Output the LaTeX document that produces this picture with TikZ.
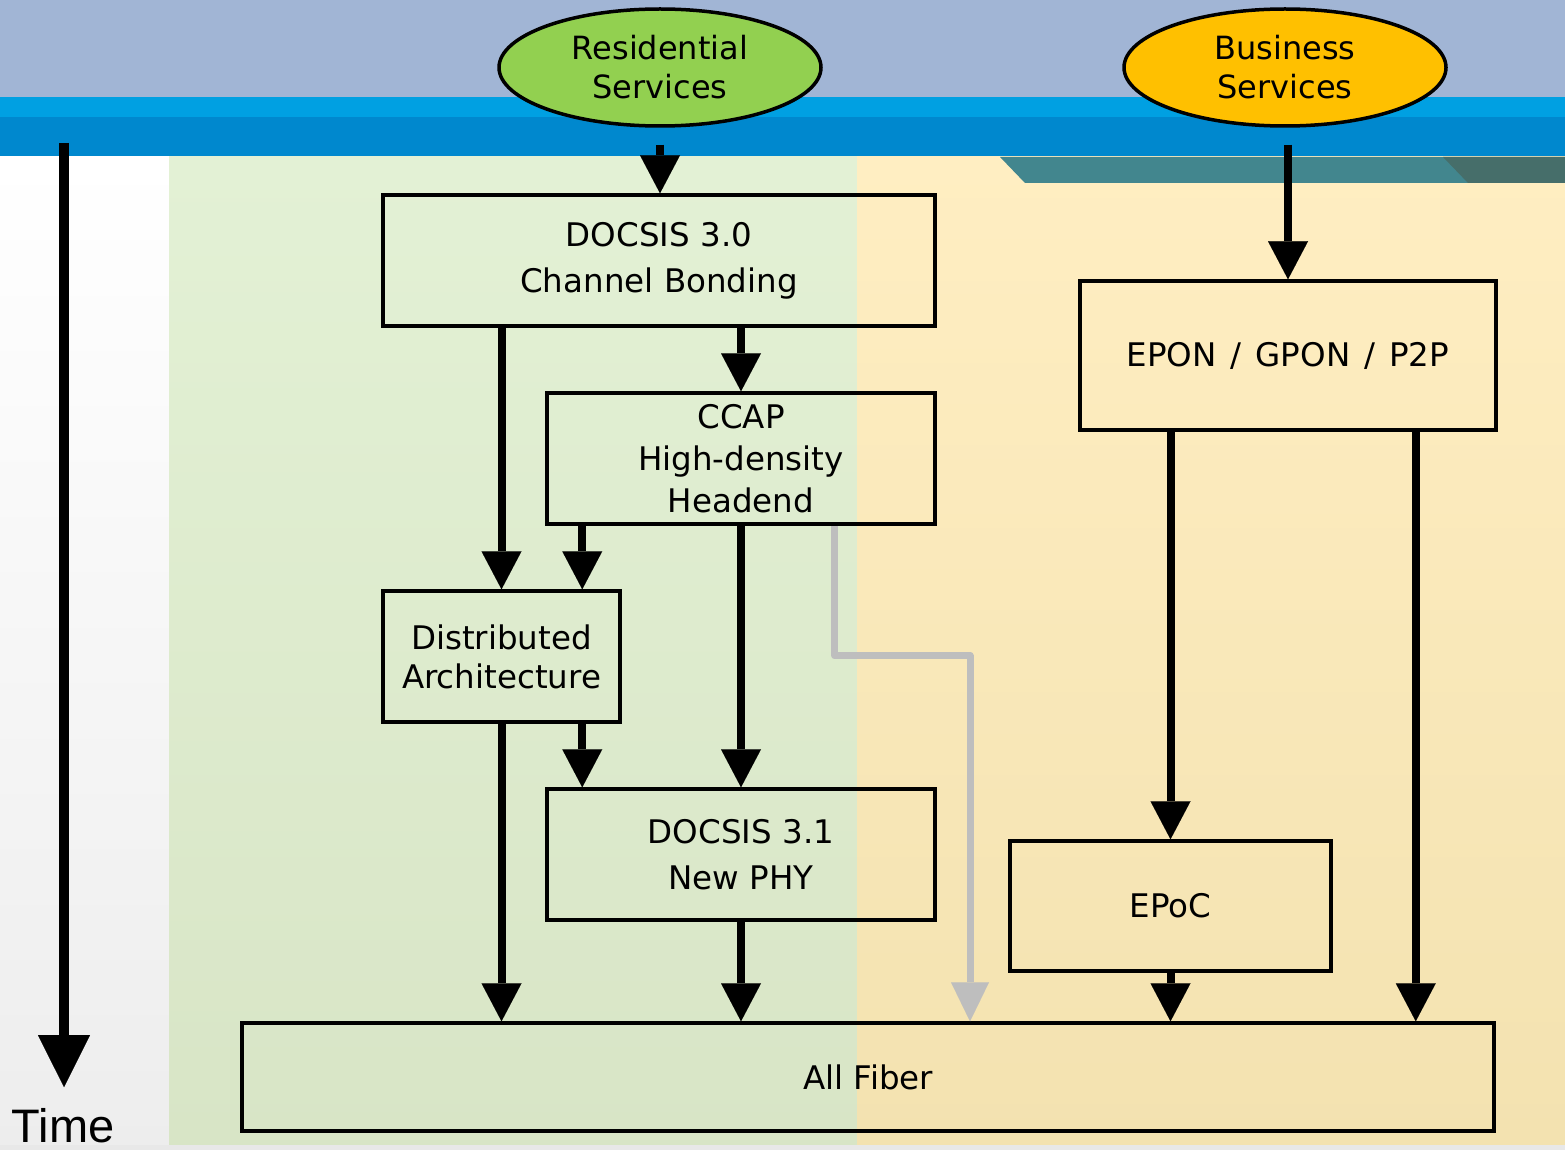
\documentclass[tikz,border=0pt]{standalone}
\usepackage{fontspec}
\setmainfont{DejaVu Sans}
\newfontfamily\timefont{Liberation Sans}
\usetikzlibrary{arrows.meta,shapes.geometric,calc}

\definecolor{skyband}{RGB}{161,181,213}
\definecolor{brightband}{RGB}{0,160,226}
\definecolor{deepband}{RGB}{0,136,206}
\definecolor{tealband}{RGB}{66,134,142}
\definecolor{darkteal}{RGB}{70,110,106}
\definecolor{greentop}{RGB}{227,241,213}
\definecolor{greenbot}{RGB}{216,229,198}
\definecolor{yellowtop}{RGB}{255,238,194}
\definecolor{yellowbot}{RGB}{243,226,176}
\definecolor{resgreen}{RGB}{146,208,80}
\definecolor{busgold}{RGB}{255,192,0}
\definecolor{pathgray}{RGB}{190,190,190}

\begin{document}
\begin{tikzpicture}[x=1pt,y=-1pt,
  box/.style={draw=black,line width=3.5pt,inner sep=0pt,align=center,
    font=\fontsize{32.5}{46}\selectfont},
  svc/.style={ellipse,draw=black,line width=3.5pt,inner sep=0pt,align=center,
    minimum width=322pt,minimum height=117pt,font=\fontsize{32}{39}\selectfont},
  arr/.style={line width=8pt,-{Triangle[length=38pt,width=40pt,line width=0.01pt]}},
  grayarr/.style={draw=pathgray,line width=7pt,line join=round,
    -{Triangle[length=39pt,width=38pt,line width=0.01pt]}},
  timearr/.style={line width=10pt,-{Triangle[length=52pt,width=52pt,line width=0.01pt]}}
]
\useasboundingbox (0,0) rectangle (1565,1150);

% background bands
\fill[skyband] (0,0) rectangle (1565,97);
\fill[brightband] (0,97) rectangle (1565,117);
\fill[deepband] (0,117) rectangle (1565,157);
\shade[top color=white,bottom color=black!7] (0,157) rectangle (169,1145);
\shade[top color=greentop,bottom color=greenbot] (169,157) rectangle (857,1145);
\shade[top color=yellowtop,bottom color=yellowbot] (857,157) rectangle (1565,1145);
\fill[tealband] (1000,157) -- (1025,183) -- (1565,183) -- (1565,157) -- cycle;
\fill[darkteal] (1443,157) -- (1468,183) -- (1565,183) -- (1565,157) -- cycle;
\fill[black!9] (0,1145) rectangle (1565,1150);

% service ellipses
\node[svc,fill=resgreen] (res) at (660,67.5) {Residential\\Services};
\node[svc,fill=busgold] (bus) at (1285,67.5) {Business\\Services};

% technology boxes
\node[box,minimum width=552pt,minimum height=131pt] (d30) at (659,260.5)
  {DOCSIS 3.0\\Channel Bonding};
\node[box,minimum width=388pt,minimum height=131pt,
  font=\fontsize{32.5}{42}\selectfont] (ccap) at (741,458.5)
  {CCAP\\High-density\\Headend};
\node[box,minimum width=237pt,minimum height=131pt,
  font=\fontsize{32.5}{39}\selectfont] (da) at (501.5,656.5)
  {Distributed\\Architecture};
\node[box,minimum width=388pt,minimum height=131pt] (d31) at (741,854.5)
  {DOCSIS 3.1\\New PHY};
\node[box,minimum width=1252pt,minimum height=108pt] (fiber) at (868,1077)
  {All Fiber};
\node[box,minimum width=416pt,minimum height=149pt] (epon) at (1288,355.5)
  {EPON\hspace{14pt}/\hspace{14pt}GPON\hspace{14pt}/\hspace{14pt}P2P};
\node[box,minimum width=321pt,minimum height=130pt] (epoc) at (1170.5,906)
  {EPoC};

% time axis
\coordinate (tstart) at (64,143);
\coordinate (tend) at (64,1087);
\node[font=\timefont\fontsize{47}{47}\selectfont,anchor=base] (time) at (63,1142) {Time};
\draw[timearr] (tstart) -- (tend);

% residential flow
\draw[arr] ([yshift=-17pt]res.south) -- (res.south |- d30.north);
\draw[arr] (d30.south -| ccap.north) -- (ccap.north);
\draw[arr] (d30.south -| da.north) -- (da.north);
\draw[arr] ([xshift=37pt]ccap.south west) -- ([xshift=37pt]ccap.south west |- da.north);
\draw[arr] (ccap.south) -- (d31.north);
\draw[arr] ([xshift=37pt]d31.north west |- da.south) -- ([xshift=37pt]d31.north west);
\draw[arr] (da.south) -- (da.south |- fiber.north);
\draw[arr] (d31.south) -- (d31.south |- fiber.north);
\draw[grayarr] ([xshift=-102pt]ccap.south east) -- ++(0,130) -| ([xshift=102pt]fiber.north);

% business flow
\draw[arr] ([yshift=-17pt]bus.south -| epon.north) -- (epon.north);
\draw[arr] (epoc.north |- epon.south) -- (epoc.north);
\draw[arr] ([xshift=-82pt]epon.south east) -- ([xshift=-82pt]epon.south east |- fiber.north);
\draw[arr] (epoc.south) -- (epoc.south |- fiber.north);
\end{tikzpicture}
\end{document}
